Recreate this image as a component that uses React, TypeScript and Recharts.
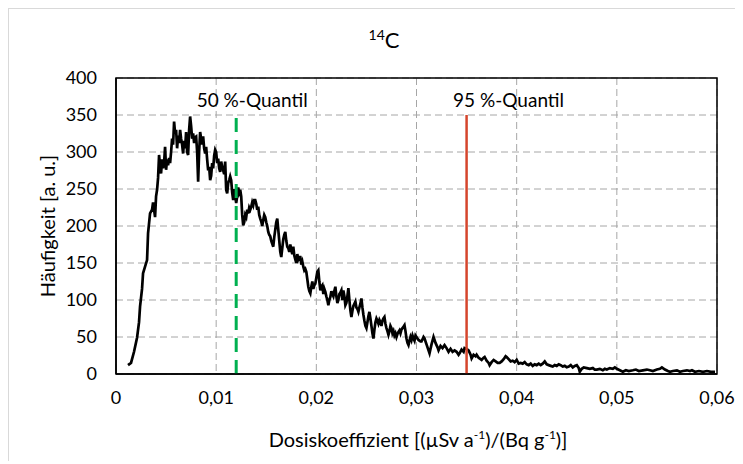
import {
  LineChart,
  Line,
  XAxis,
  YAxis,
  CartesianGrid,
  ReferenceLine,
  ReferenceArea
} from "recharts";

// rising flank
const riseDosis = [
  0.0012, 0.0015, 0.0018, 0.0021, 0.0023, 0.0024, 0.0026, 0.0027, 0.0029, 0.0031,
  0.0032, 0.0034, 0.0036, 0.0037, 0.0039, 0.004
];
const riseCounts = [
  12, 15, 30, 49, 70, 91, 115, 136, 145, 154,
  190, 217, 222, 232, 212, 240
];

// peak and falling part, one bin per 0.0001
const bodyDosis = [
  0.0041, 0.0042, 0.0043, 0.0044, 0.0045, 0.0046, 0.0047, 0.0048, 0.0049, 0.005,
  0.0051, 0.0052, 0.0053, 0.0054, 0.0055, 0.0056, 0.0057, 0.0058, 0.0059, 0.006,
  0.0061, 0.0062, 0.0063, 0.0064, 0.0065, 0.0066, 0.0067, 0.0068, 0.0069, 0.007,
  0.0071, 0.0072, 0.0073, 0.0074, 0.0075, 0.0076, 0.0077, 0.0078, 0.0079, 0.008,
  0.0081, 0.0082, 0.0083, 0.0084, 0.0085, 0.0086, 0.0087, 0.0088, 0.0089, 0.009,
  0.0091, 0.0092, 0.0093, 0.0094, 0.0095, 0.0096, 0.0097, 0.0098, 0.0099, 0.01,
  0.0101, 0.0102, 0.0103, 0.0104, 0.0105, 0.0106, 0.0107, 0.0108, 0.0109, 0.011,
  0.0111, 0.0112, 0.0113, 0.0114, 0.0115, 0.0116, 0.0117, 0.0118, 0.0119, 0.012,
  0.0121, 0.0122, 0.0123, 0.0124, 0.0125, 0.0126, 0.0127, 0.0128, 0.0129, 0.013,
  0.0131, 0.0132, 0.0133, 0.0134, 0.0135, 0.0136, 0.0137, 0.0138, 0.0139, 0.014,
  0.0141, 0.0142, 0.0143, 0.0144, 0.0145, 0.0146, 0.0147, 0.0148, 0.0149, 0.015,
  0.0151, 0.0152, 0.0153, 0.0154, 0.0155, 0.0156, 0.0157, 0.0158, 0.0159, 0.016,
  0.0161, 0.0162, 0.0163, 0.0164, 0.0165, 0.0166, 0.0167, 0.0168, 0.0169, 0.017,
  0.0171, 0.0172, 0.0173, 0.0174, 0.0175, 0.0176, 0.0177, 0.0178, 0.0179, 0.018,
  0.0181, 0.0182, 0.0183, 0.0184, 0.0185, 0.0186, 0.0187, 0.0188, 0.0189, 0.019,
  0.0191, 0.0192, 0.0193, 0.0194, 0.0195, 0.0196, 0.0197, 0.0198, 0.0199, 0.02,
  0.0201, 0.0202, 0.0203, 0.0204, 0.0205, 0.0206, 0.0207, 0.0208, 0.0209, 0.021,
  0.0211, 0.0212, 0.0213, 0.0214, 0.0215, 0.0216, 0.0217, 0.0218, 0.0219, 0.022,
  0.0221, 0.0222, 0.0223, 0.0224, 0.0225, 0.0226, 0.0227, 0.0228, 0.0229, 0.023,
  0.0231, 0.0232, 0.0233, 0.0234, 0.0235, 0.0236, 0.0237, 0.0238, 0.0239, 0.024,
  0.0241, 0.0242, 0.0243, 0.0244, 0.0245, 0.0246, 0.0247, 0.0248, 0.0249, 0.025,
  0.0251, 0.0252, 0.0253, 0.0254, 0.0255, 0.0256, 0.0257, 0.0258, 0.0259, 0.026,
  0.0261, 0.0262, 0.0263, 0.0264, 0.0265, 0.0266, 0.0267, 0.0268, 0.0269, 0.027,
  0.0271, 0.0272, 0.0273, 0.0274, 0.0275, 0.0276, 0.0277, 0.0278, 0.0279, 0.028,
  0.0281, 0.0282, 0.0283, 0.0284, 0.0285, 0.0286, 0.0287, 0.0288, 0.0289, 0.029,
  0.0291, 0.0292, 0.0293, 0.0294, 0.0295, 0.0296, 0.0297, 0.0298, 0.0299, 0.03
];
const bodyCounts = [
  249, 265, 296, 280, 271, 290, 278, 285, 307, 276,
  290, 282, 292, 285, 300, 318, 310, 341, 325, 330,
  305, 322, 312, 330, 318, 310, 298, 315, 305, 327,
  300, 296, 330, 348, 335, 318, 325, 312, 320, 321,
  300, 260, 300, 327, 318, 310, 321, 305, 298, 307,
  290, 275, 280, 262, 268, 285, 278, 295, 303, 300,
  285, 291, 278, 273, 287, 280, 275, 270, 287, 249,
  244, 258, 262, 267, 262, 245, 235, 250, 240, 231,
  240, 252, 245, 249, 240, 215, 201, 205, 215, 212,
  222, 217, 225, 222, 226, 232, 228, 235, 235, 230,
  222, 226, 215, 210, 206, 200, 208, 215, 212, 205,
  200, 192, 188, 186, 180, 176, 172, 185, 195, 205,
  210, 195, 180, 165, 158, 170, 182, 188, 192, 180,
  172, 170, 165, 175, 168, 162, 172, 160, 155, 150,
  162, 155, 158, 158, 148, 152, 145, 140, 142, 138,
  128, 118, 112, 109, 118, 125, 115, 120, 122, 130,
  138, 140, 125, 113, 118, 120, 108, 115, 111, 105,
  100, 93, 100, 104, 112, 108, 105, 112, 118, 105,
  96, 100, 108, 110, 113, 100, 113, 105, 93, 96,
  105, 116, 100, 86, 77, 85, 92, 95, 98, 90,
  88, 84, 90, 95, 102, 90, 80, 72, 65, 62,
  70, 78, 84, 75, 65, 55, 48, 60, 70, 75,
  72, 68, 73, 70, 65, 72, 75, 77, 68, 62,
  58, 53, 58, 65, 62, 55, 58, 52, 55, 50,
  54, 57, 59, 55, 60, 62, 64, 66, 58, 48,
  42, 39, 45, 50, 46, 52, 48, 45, 52, 50
];

// long tail
const tailDosis = [
  0.0302, 0.0304, 0.0305, 0.0307, 0.0308, 0.031, 0.0312, 0.0313, 0.0315, 0.0317,
  0.0319, 0.0321, 0.0322, 0.0324, 0.0326, 0.0328, 0.033, 0.0332, 0.0334, 0.0336,
  0.0338, 0.034, 0.0342, 0.0343, 0.0345, 0.0347, 0.0348, 0.035, 0.0352, 0.0354,
  0.0355, 0.0357, 0.0359, 0.036, 0.0362, 0.0364, 0.0365, 0.0367, 0.0368, 0.037,
  0.0372, 0.0373, 0.0375, 0.0377, 0.0379, 0.0381, 0.0383, 0.0385, 0.0387, 0.0389,
  0.039, 0.0392, 0.0394, 0.0396, 0.0398, 0.04, 0.0402, 0.0404, 0.0406, 0.0408,
  0.041, 0.0412, 0.0414, 0.0416, 0.0418, 0.042, 0.0422, 0.0424, 0.0426, 0.0428,
  0.043, 0.0432, 0.0434, 0.0436, 0.0438, 0.044, 0.0442, 0.0444, 0.0446, 0.0448,
  0.045, 0.0452, 0.0454, 0.0456, 0.0458, 0.046, 0.0462, 0.0463, 0.0465, 0.0467,
  0.047, 0.0473, 0.0476, 0.0478, 0.048, 0.0483, 0.0486, 0.0488, 0.049, 0.0493,
  0.0496, 0.0498, 0.05, 0.0503, 0.0506, 0.0509, 0.0512, 0.0516, 0.0519, 0.0522,
  0.0526, 0.053, 0.0533, 0.0536, 0.054, 0.0543, 0.0545, 0.0548, 0.0551, 0.0553,
  0.0556, 0.056, 0.0563, 0.0566, 0.057, 0.0573, 0.0575, 0.0578, 0.0582, 0.0586,
  0.059, 0.0594, 0.0598
];
const tailCounts = [
  46, 44, 44, 50, 48, 40, 32, 28, 40, 50,
  42, 36, 32, 38, 35, 39, 35, 30, 34, 30,
  32, 30, 26, 28, 33, 30, 35, 34, 32, 26,
  21, 26, 24, 26, 22, 20, 19, 22, 23, 18,
  15, 12, 16, 19, 17, 15, 15, 17, 20, 24,
  23, 20, 17, 18, 16, 19, 14, 15, 14, 16,
  13, 12, 14, 11, 13, 12, 14, 12, 14, 17,
  13, 12, 11, 10, 12, 11, 13, 12, 10, 11,
  9, 10, 12, 9, 11, 12, 8, 3, 7, 9,
  8, 7, 8, 6, 6, 7, 5, 7, 6, 8,
  7, 9, 7, 5, 3, 5, 4, 5, 6, 4,
  5, 6, 5, 4, 6, 7, 9, 6, 4, 3,
  4, 5, 3, 4, 5, 4, 5, 3, 4, 3,
  4, 3, 3
];

const xTicks = [0, 0.01, 0.02, 0.03, 0.04, 0.05, 0.06];
const yTicks = [0, 50, 100, 150, 200, 250, 300, 350, 400];

const medianDosis = 0.012;
const p95Dosis = 0.035;
const quantileTop = 350;

const allDosis = [...riseDosis, ...bodyDosis, ...tailDosis];
const allCounts = [...riseCounts, ...bodyCounts, ...tailCounts];
const data = allDosis.map((x, i) => ({ x, y: allCounts[i] }));

const font = "Lato, 'Noto Sans', sans-serif";

function QuantileLabel(props: any) {
  const { viewBox, text, shift } = props;
  if (!viewBox) return null;
  return (
    <text
      x={viewBox.x + viewBox.width / 2 + shift}
      y={viewBox.y - 8}
      textAnchor="middle"
      fontSize={19}
      fontFamily={font}
      fill="#000"
    >
      {text}
    </text>
  );
}

const fmtX = (v: number) => (v === 0 ? "0" : v.toFixed(2).replace(".", ","));

export default function App() {
  return (
    <div
      style={{
        position: "relative",
        width: 734,
        height: 452,
        borderTop: "1px solid #d9d9d9",
        borderLeft: "1px solid #d9d9d9",
        background: "#fff",
        fontFamily: font,
        color: "#000"
      }}
    >
      <div
        style={{
          position: "absolute",
          left: 375,
          top: 19,
          transform: "translateX(-50%)",
          fontSize: 22,
          lineHeight: "24px",
          whiteSpace: "nowrap"
        }}
      >
        <span style={{ fontSize: 14, position: "relative", top: -8 }}>14</span>C
      </div>

      <LineChart
        width={734}
        height={450}
        data={data}
        margin={{ top: 69, right: 26, bottom: 45, left: 47 }}
        style={{ position: "absolute", left: 0, top: 0 }}
      >
        <CartesianGrid stroke="#a6a6a6" strokeDasharray="7 4" />
        <XAxis
          type="number"
          dataKey="x"
          domain={[0, 0.06]}
          ticks={xTicks}
          tickFormatter={fmtX}
          height={40}
          tickLine={false}
          tickSize={0}
          tickMargin={17}
          axisLine={{ stroke: "#000", strokeWidth: 1.5 }}
          tick={{ fill: "#000", fontSize: 18, fontFamily: font }}
          allowDataOverflow
        />
        <YAxis
          type="number"
          domain={[0, 400]}
          ticks={yTicks}
          width={60}
          tickLine={false}
          tickSize={0}
          tickMargin={19}
          axisLine={{ stroke: "#000", strokeWidth: 1.5 }}
          tick={{ fill: "#000", fontSize: 18, fontFamily: font }}
        />
        <ReferenceArea
          x1={0}
          x2={0.06}
          y1={0}
          y2={400}
          fill="none"
          stroke="#000"
          strokeWidth={1.5}
        />
        <Line
          type="linear"
          dataKey="y"
          stroke="#000"
          strokeWidth={2.7}
          dot={false}
          isAnimationActive={false}
        />
        <ReferenceLine
          segment={[
            { x: medianDosis, y: 0 },
            { x: medianDosis, y: quantileTop }
          ]}
          stroke="#00b050"
          strokeWidth={3}
          strokeDasharray="14 8"
          label={<QuantileLabel text="50 %-Quantil" shift={16} />}
        />
        <ReferenceLine
          segment={[
            { x: p95Dosis, y: 0 },
            { x: p95Dosis, y: quantileTop }
          ]}
          stroke="#d5452c"
          strokeWidth={2.5}
          label={<QuantileLabel text="95 %-Quantil" shift={42} />}
        />
      </LineChart>

      <div
        style={{
          position: "absolute",
          left: -62,
          top: 205,
          width: 200,
          height: 24,
          lineHeight: "24px",
          textAlign: "center",
          transform: "rotate(-90deg)",
          fontSize: 20,
          whiteSpace: "nowrap"
        }}
      >
        Häufigkeit [a. u.]
      </div>

      <div
        style={{
          position: "absolute",
          left: 409,
          top: 415,
          transform: "translateX(-50%)",
          fontSize: 20,
          lineHeight: "22px",
          whiteSpace: "nowrap"
        }}
      >
        Dosiskoeffizient [(µSv a<sup style={{ fontSize: 12 }}>-1</sup>)/(Bq g
        <sup style={{ fontSize: 12 }}>-1</sup>)]
      </div>
    </div>
  );
}
